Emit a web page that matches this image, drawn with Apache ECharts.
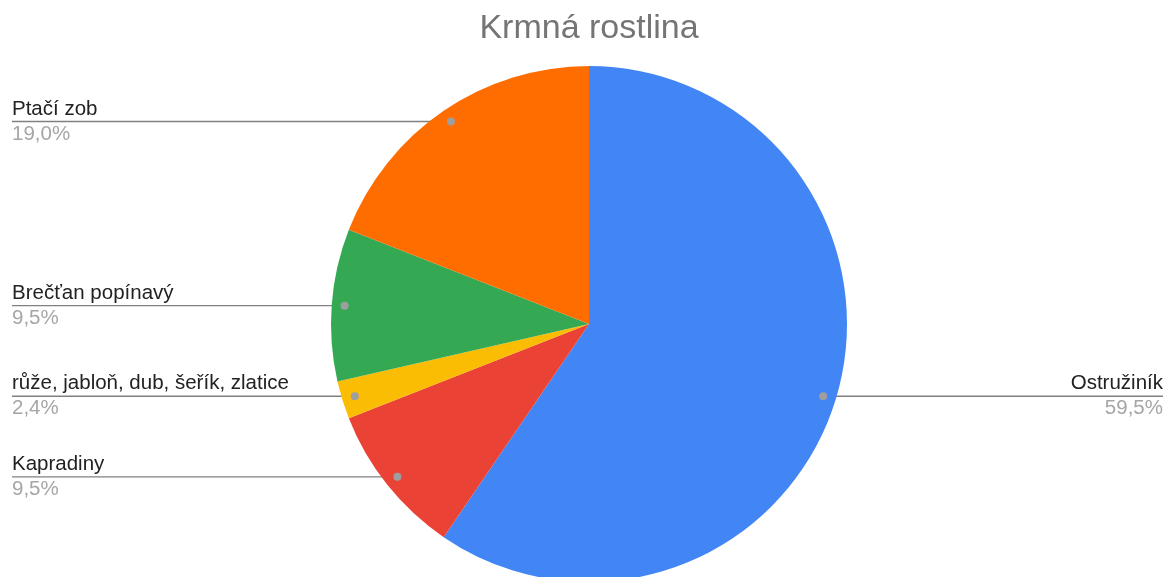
<!DOCTYPE html>
<html><head><meta charset="utf-8">
<script src="https://cdn.jsdelivr.net/npm/echarts@6/dist/echarts.min.js"></script>
<style>html,body{margin:0;padding:0;background:#fff}#c{width:1167px;height:577px}</style>
</head><body><div id="c"></div>
<script>
const categories = ['Ostružiník', 'Kapradiny', 'růže, jabloň, dub, šeřík, zlatice', 'Brečťan popínavý', 'Ptačí zob'];
const values = [25, 4, 1, 4, 8];
const colors = ['#4285f4', '#ea4335', '#fbbc04', '#34a853', '#ff6d01'];
const titleText = 'Krmná rostlina';

const CX = 589, CY = 324, R = 258;
const LEFT_X = 12, RIGHT_X = 1163;
const FONT = '"Liberation Sans", Arial, sans-serif';

const total = values.reduce((a, b) => a + b, 0);
const mids = [];
let acc = 0;
values.forEach(v => { mids.push((acc + v / 2) / total * 2 * Math.PI); acc += v; });
function dotPos(i) {
  const a = mids[i], r = R * 0.95;
  return [CX + r * Math.sin(a), CY - r * Math.cos(a)];
}

const chart = echarts.init(document.getElementById('c'), null, {renderer: 'canvas'});
chart.setOption({
  animation: false,
  backgroundColor: '#fff',
  series: [{
    type: 'pie',
    center: [CX, CY],
    radius: R,
    startAngle: 90,
    clockwise: true,
    silent: true,
    emphasis: {disabled: true},
    data: categories.map((c, i) => ({name: c, value: values[i], itemStyle: {color: colors[i]}})),
    label: {
      show: true,
      position: 'outside',
      formatter: p => '{n|' + p.name + '}\n{p|' + (values[p.dataIndex] / total * 100).toFixed(1).replace('.', ',') + '%}',
      rich: {
        n: {fontFamily: FONT, fontSize: 20.5, color: '#222222', lineHeight: 25},
        p: {fontFamily: FONT, fontSize: 20.5, color: '#a6a6a6', lineHeight: 25}
      }
    },
    labelLine: {show: true, lineStyle: {color: '#808080', width: 1.3}},
    labelLayout: function (params) {
      const i = params.dataIndex;
      const d = dotPos(i);
      const left = d[0] < CX;
      const ex = left ? LEFT_X : RIGHT_X;
      return {
        x: ex, y: d[1], align: left ? 'left' : 'right', verticalAlign: 'middle',
        labelLinePoints: [[d[0], d[1]], [(d[0] + ex) / 2, d[1]], [ex, d[1]]]
      };
    }
  }],
  graphic: [{
    type: 'text', z: 100, x: CX, y: 12,
    style: {text: titleText, align: 'center', verticalAlign: 'top', font: 'normal 34px ' + FONT, fill: '#757575'}
  }].concat(values.map((v, i) => {
    const d = dotPos(i);
    return {type: 'circle', z: 100, shape: {cx: d[0], cy: d[1], r: 4}, style: {fill: '#9e9e9e'}};
  }))
});
</script>
</body></html>
